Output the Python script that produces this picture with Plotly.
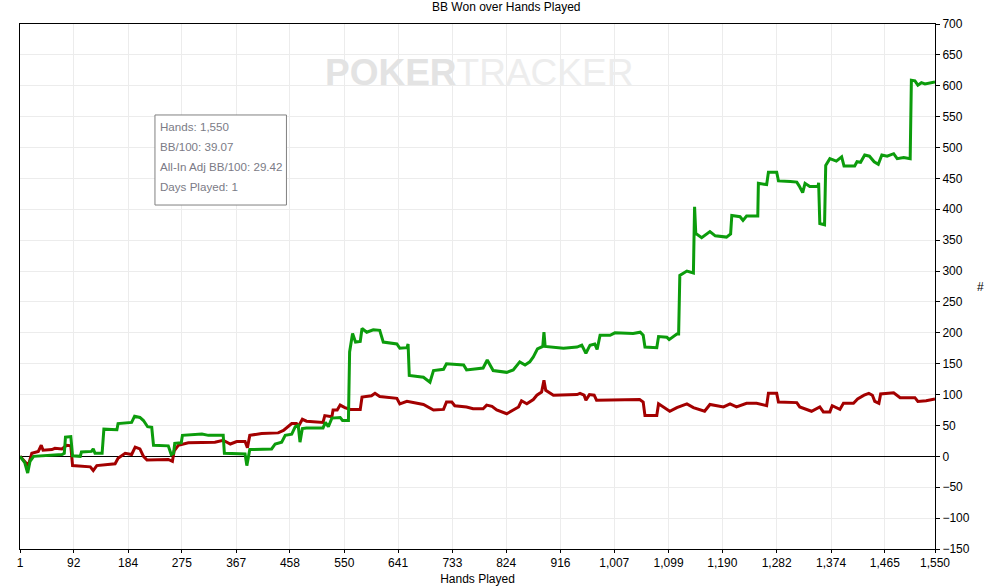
import plotly.graph_objects as go

# BB won (green) - hands / big blinds
won_hands = [1, 9, 14, 18, 24, 49, 72, 76, 78, 87, 90, 103, 105, 122, 125, 128, 140, 143, 165, 167,
             190, 195, 204, 210, 217, 224, 227, 252, 257, 261, 263, 274, 276, 309, 320, 345, 347, 382,
             385, 390, 427, 433, 444, 450, 461, 467, 472, 475, 479, 486, 514, 518, 523, 529, 543, 547,
             557, 559, 564, 569, 577, 580, 588, 599, 610, 616, 639, 644, 656, 658, 660, 684, 695, 701,
             718, 723, 752, 757, 785, 792, 802, 825, 836, 847, 856, 864, 870, 877, 886, 888, 890, 921,
             944, 952, 959, 966, 974, 978, 983, 1000, 1008, 1039, 1051, 1056, 1059, 1079, 1082, 1096,
             1100, 1113, 1116, 1118, 1130, 1141, 1143, 1145, 1155, 1169, 1178, 1197, 1204, 1206, 1220,
             1225, 1231, 1250, 1251, 1265, 1268, 1282, 1285, 1305, 1316, 1320, 1326, 1330, 1338, 1352,
             1353, 1355, 1363, 1365, 1372, 1383, 1392, 1396, 1414, 1418, 1424, 1431, 1439, 1447, 1454,
             1460, 1469, 1480, 1486, 1497, 1508, 1510, 1516, 1521, 1527, 1533, 1538, 1550]
won_bb = [0, -10, -27, -8, 0, 2, 3, 5, 31, 32, 1, 0, 7, 8, 12, 5, 5, 44, 43, 53,
          55, 65, 63, 58, 48, 47, 18, 17, 3, 5, 21, 22, 34, 36, 34, 34, 5, 4,
          -15, 11, 12, 20, 23, 34, 36, 48, 50, 23, 45, 46, 46, 55, 48, 62, 63, 58,
          58, 169, 199, 185, 186, 207, 201, 205, 204, 185, 182, 175, 176, 182, 131, 128, 120, 139,
          141, 150, 148, 140, 143, 156, 139, 136, 140, 153, 148, 153, 161, 174, 178, 201, 178, 175,
          177, 180, 167, 180, 182, 173, 196, 196, 200, 199, 201, 196, 177, 176, 194, 193,
          189, 198, 198, 293, 300, 297, 404, 361, 354, 364, 357, 355, 360, 390, 388,
          382, 389, 389, 442, 440, 460, 460, 446, 445, 444, 438, 427, 442, 437, 437,
          443, 377, 375, 471, 482, 478, 485, 470, 470, 477, 476, 488, 486, 477, 473,
          488, 486, 490, 482, 484, 482, 609, 608, 601, 605, 603, 604, 606]

# second series (dark red)
adj_hands = [1, 9, 15, 21, 32, 37, 40, 55, 60, 72, 80, 87, 90, 120, 125, 131, 162, 167, 179, 190,
             196, 204, 210, 216, 252, 259, 262, 269, 286, 331, 345, 357, 368, 382, 386, 390, 410, 438,
             447, 461, 469, 472, 479, 486, 514, 517, 529, 531, 538, 543, 551, 560, 577, 580, 596, 602,
             610, 639, 644, 656, 684, 701, 718, 723, 732, 737, 757, 768, 785, 791, 800, 808, 825, 836,
             845, 850, 859, 870, 876, 884, 888, 891, 904, 944, 949, 956, 959, 965, 973, 977, 1050,
             1056, 1059, 1079, 1082, 1101, 1113, 1130, 1141, 1160, 1169, 1192, 1203, 1214, 1231, 1248,
             1265, 1268, 1282, 1285, 1316, 1321, 1341, 1355, 1361, 1372, 1376, 1389, 1395, 1412, 1419,
             1430, 1438, 1444, 1448, 1455, 1458, 1480, 1491, 1516, 1521, 1535, 1550]
adj_bb = [0, -8, -15, 5, 8, 18, 10, 11, 13, 12, 18, 17, -15, -17, -23, -15, -12, -3, 5, 3,
          15, 12, 0, -6, -5, -8, 9, 18, 22, 23, 26, 20, 24, 24, 14, 34, 37, 38,
          42, 53, 53, 48, 60, 57, 55, 66, 64, 75, 75, 83, 79, 76, 76, 96, 98, 102,
          97, 94, 85, 89, 84, 75, 76, 88, 88, 82, 80, 77, 77, 83, 81, 75, 69, 75,
          80, 90, 85, 92, 99, 104, 123, 107, 99, 100, 102, 99, 91, 100, 99, 91, 92,
          88, 66, 66, 85, 73, 79, 85, 79, 73, 84, 80, 85, 80, 86, 86,
          82, 102, 102, 88, 87, 80, 73, 80, 72, 72, 82, 76, 86, 86, 93,
          99, 102, 99, 89, 86, 101, 103, 95, 95, 89, 90, 93]

x_ticks = [1, 92, 184, 275, 367, 458, 550, 641, 733, 824, 916, 1007, 1099, 1190, 1282, 1374, 1465, 1550]
x_ticktext = [f"{v:,}" for v in x_ticks]

info_lines = ["Hands: 1,550", "BB/100: 39.07", "All-In Adj BB/100: 29.42", "Days Played: 1"]

FONT = "Liberation Sans, Arial, sans-serif"

fig = go.Figure()

fig.add_trace(go.Scatter(x=adj_hands, y=adj_bb, mode='lines',
                         line=dict(color='#a30000', width=3), name='All-In Adj', hoverinfo='skip'))
fig.add_trace(go.Scatter(x=won_hands, y=won_bb, mode='lines',
                         line=dict(color='#0c9c0c', width=3), name='BB Won', hoverinfo='skip'))

fig.update_layout(
    width=987, height=588,
    margin=dict(l=20, r=52, t=24, b=39),
    paper_bgcolor='white', plot_bgcolor='white',
    showlegend=False,
    font=dict(family=FONT, size=12, color='black'),
    xaxis=dict(
        range=[1, 1550], tickvals=x_ticks, ticktext=x_ticktext,
        showgrid=True, gridcolor='#ececec', gridwidth=1,
        showline=True, linecolor='black', linewidth=1, mirror=True,
        ticks='outside', ticklen=3, tickcolor='black',
        zeroline=False, automargin=False,
        title=dict(text='Hands Played', standoff=5, font=dict(size=12)),
        tickfont=dict(size=12),
    ),
    yaxis=dict(
        range=[-150, 700], dtick=50, side='right',
        showgrid=True, gridcolor='#ececec', gridwidth=1,
        showline=True, linecolor='black', linewidth=1, mirror=True,
        ticks='outside', ticklen=4, tickcolor='black',
        zeroline=True, zerolinecolor='black', zerolinewidth=1,
        automargin=False,
        tickfont=dict(size=12),
    ),
)

# title
fig.add_annotation(text='BB Won over Hands Played', xref='paper', yref='paper',
                   x=0.532, y=1, yshift=17, showarrow=False,
                   font=dict(size=12, color='black'), xanchor='center', yanchor='middle')
# right axis label
fig.add_annotation(text='#', xref='paper', yref='paper', x=1, xshift=45, y=0.5, showarrow=False,
                   font=dict(size=12, color='black'), xanchor='center', yanchor='middle')

# watermark
fig.add_annotation(text="<span style='color:#e3e3e3'><b>POKER</b></span>TRACKER",
                   xref='paper', yref='paper', x=0.502, y=0.908,
                   showarrow=False, font=dict(size=37, color='#ededed', family=FONT),
                   xanchor='center', yanchor='middle')

# info box
fig.add_shape(type='rect', xref='paper', yref='paper', x0=0.1475, x1=0.2912, y0=0.6552, y1=0.8267,
              line=dict(color='#808080', width=1), fillcolor='white', layer='above')
for i, line in enumerate(info_lines):
    fig.add_annotation(text=line, xref='paper', yref='paper', x=0.1475, xshift=3,
                       y=0.8267, yshift=-12 - 20 * i, showarrow=False, xanchor='left', yanchor='middle',
                       font=dict(size=11.6, color='#7b7b86'))

fig.write_html("out.html", config={'displayModeBar': False},
               post_script="document.body.style.margin='0';")
